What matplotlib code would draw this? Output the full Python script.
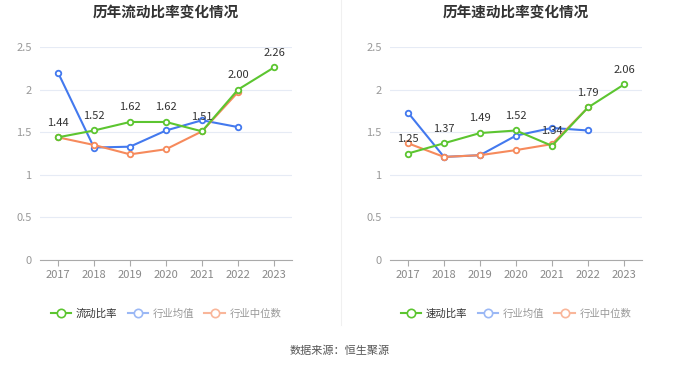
import matplotlib
matplotlib.use("Agg")
import matplotlib.pyplot as plt
from matplotlib.lines import Line2D

plt.rcParams['font.family'] = ['Noto Sans CJK SC', 'DejaVu Sans']

years = ['2017', '2018', '2019', '2020', '2021', '2022', '2023']

# 流动比率
current_ratio = [1.44, 1.52, 1.62, 1.62, 1.51, 2.00, 2.26]
current_avg = [2.20, 1.32, 1.33, 1.52, 1.64, 1.56]
current_median = [1.44, 1.35, 1.24, 1.30, 1.51, 1.97]

# 速动比率
quick_ratio = [1.25, 1.37, 1.49, 1.52, 1.34, 1.79, 2.06]
quick_avg = [1.73, 1.21, 1.23, 1.46, 1.55, 1.52]
quick_median = [1.37, 1.21, 1.23, 1.29, 1.36, 1.79]

GREEN = '#5cc530'
BLUE = '#4379ee'
ORANGE = '#f68a5c'

fig = plt.figure(figsize=(6.8, 3.67), dpi=100)


def draw(ax, main, avg, med, title, main_name):
    x = list(range(len(years)))
    ax.plot(x[:len(avg)], avg, color=BLUE, lw=1.5, marker='o', ms=4,
            mfc='white', mew=1.3, zorder=3)
    ax.plot(x[:len(med)], med, color=ORANGE, lw=1.5, marker='o', ms=4,
            mfc='white', mew=1.3, zorder=3)
    ax.plot(x, main, color=GREEN, lw=1.5, marker='o', ms=4,
            mfc='white', mew=1.3, zorder=4)
    for xi, v in zip(x, main):
        ax.annotate(f'{v:.2f}', (xi, v), xytext=(0, 7), textcoords='offset points',
                    ha='center', va='bottom', fontsize=8, color='#333333', zorder=5)
    ax.set_xlim(-0.5, 6.5)
    ax.set_ylim(0, 2.5)
    ax.set_yticks([0, 0.5, 1, 1.5, 2, 2.5])
    ax.set_yticklabels(['0', '0.5', '1', '1.5', '2', '2.5'])
    ax.set_xticks(x)
    ax.set_xticklabels(years)
    ax.tick_params(axis='y', length=0, labelsize=8, labelcolor='#999999', pad=6)
    ax.tick_params(axis='x', length=4, color='#aaaaaa', labelsize=8,
                   labelcolor='#888888', pad=3)
    ax.grid(axis='y', color='#e6ebf5', lw=0.8)
    ax.set_axisbelow(True)
    for s in ['top', 'right', 'left']:
        ax.spines[s].set_visible(False)
    ax.spines['bottom'].set_color('#aaaaaa')
    ax.set_title(title, fontsize=10.5, fontweight='bold', color='#333333', pad=22)

    handles = [
        Line2D([], [], color=GREEN, lw=1.5, marker='o', ms=6, mfc='white', mew=1.2),
        Line2D([], [], color='#9bb8f5', lw=1.5, marker='o', ms=6, mfc='white', mew=1.2),
        Line2D([], [], color='#f9b69a', lw=1.5, marker='o', ms=6, mfc='white', mew=1.2),
    ]
    leg = ax.legend(handles, [main_name, '行业均值', '行业中位数'], loc='upper center',
                    bbox_to_anchor=(0.5, -0.185), ncol=3, frameon=False, fontsize=7.5,
                    handlelength=2.0, handletextpad=0.4, columnspacing=1.0)
    cols = ['#333333', '#999999', '#999999']
    for t, c in zip(leg.get_texts(), cols):
        t.set_color(c)


ax1 = fig.add_axes([40 / 680, 1 - 260 / 367, 252 / 680, 213 / 367])
draw(ax1, current_ratio, current_avg, current_median, '历年流动比率变化情况', '流动比率')

ax2 = fig.add_axes([390 / 680, 1 - 260 / 367, 252 / 680, 213 / 367])
draw(ax2, quick_ratio, quick_avg, quick_median, '历年速动比率变化情况', '速动比率')

fig.add_artist(Line2D([341 / 680, 341 / 680], [1 - 325 / 367, 1.0],
                      color='#f0f0f0', lw=0.8))
fig.text(0.5, 1 - 351 / 367, '数据来源：恒生聚源', ha='center', va='center',
         fontsize=8, color='#555555')

fig.savefig('out.png', dpi=100)
